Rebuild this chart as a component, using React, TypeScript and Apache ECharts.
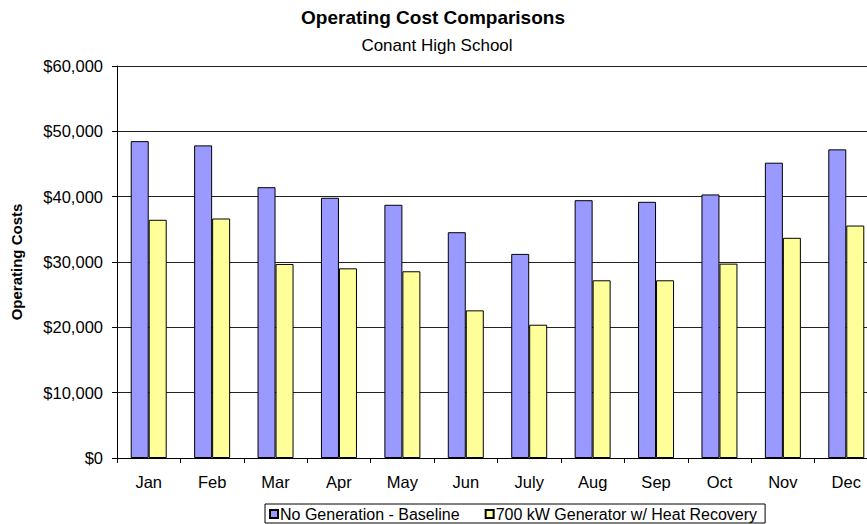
import React, { useEffect, useRef } from "react";
import * as echarts from "echarts";

const months = ["Jan", "Feb", "Mar", "Apr", "May", "Jun", "July", "Aug", "Sep", "Oct", "Nov", "Dec"];
const baseline = [48500, 47850, 41450, 39830, 38760, 34560, 31240, 39460, 39210, 40340, 45200, 47240];
const generator = [36460, 36660, 29700, 29030, 28580, 22600, 20400, 27200, 27200, 29750, 33700, 35580];
const seriesNames = ["No Generation - Baseline", "700 kW Generator w/ Heat Recovery"];
const titleText = "Operating Cost Comparisons";
const subtitleText = "Conant High School";
const yAxisTitle = "Operating Costs";

const FONT = "'Liberation Sans', Arial, sans-serif";

export default function App() {
  const ref = useRef<HTMLDivElement>(null);
  useEffect(() => {
    if (!ref.current) return;
    const chart = echarts.init(ref.current, undefined, { renderer: "svg" });
    chart.setOption({
      animation: false,
      textStyle: { fontFamily: FONT },
      graphic: [
        {
          type: "text",
          x: 433,
          y: 17,
          style: {
            text: titleText,
            fontFamily: FONT,
            fontWeight: "bold",
            fontSize: 19,
            fill: "#000",
            textAlign: "center",
            textVerticalAlign: "middle",
          },
        },
        {
          type: "text",
          x: 437,
          y: 45,
          style: {
            text: subtitleText,
            fontFamily: FONT,
            fontSize: 17,
            fill: "#000",
            textAlign: "center",
            textVerticalAlign: "middle",
          },
        },
      ],
      legend: {
        left: 265,
        top: 504,
        orient: "horizontal",
        itemWidth: 8,
        itemHeight: 8,
        itemGap: 25,
        padding: [2, 8, 1, 4],
        borderColor: "#000",
        borderWidth: 1,
        borderRadius: 0,
        icon: "rect",
        textStyle: { fontFamily: FONT, fontSize: 16, color: "#000", padding: [0, 0, 0, -3] },
        data: seriesNames,
      },
      grid: { left: 117, right: 12, top: 66, bottom: 66, containLabel: false },
      xAxis: {
        type: "category",
        data: months,
        axisLine: { show: true, lineStyle: { color: "#000", width: 1 } },
        axisTick: { show: true, length: 5, lineStyle: { color: "#000" } },
        axisLabel: { fontFamily: FONT, fontSize: 16.5, color: "#000", margin: 15 },
      },
      yAxis: {
        type: "value",
        min: 0,
        max: 60000,
        interval: 10000,
        name: yAxisTitle,
        nameLocation: "middle",
        nameRotate: 90,
        nameGap: 93,
        nameTextStyle: { fontFamily: FONT, fontSize: 15, fontWeight: "bold", color: "#000" },
        axisLine: { show: true, lineStyle: { color: "#000", width: 1 } },
        axisTick: { show: true, length: 5, lineStyle: { color: "#000" } },
        axisLabel: {
          fontFamily: FONT,
          fontSize: 16.5,
          color: "#000",
          margin: 14,
          formatter: (v: number) => "$" + v.toLocaleString("en-US"),
        },
        splitLine: { show: true, lineStyle: { color: "#222", width: 1 } },
      },
      series: [
        {
          name: seriesNames[0],
          type: "bar",
          data: baseline,
          barWidth: 18,
          barGap: "0%",
          itemStyle: { color: "#9999FF", borderColor: "#000", borderWidth: 1 },
        },
        {
          name: seriesNames[1],
          type: "bar",
          data: generator,
          barWidth: 18,
          barGap: "0%",
          itemStyle: { color: "#FFFF99", borderColor: "#000", borderWidth: 1 },
        },
      ],
    });
    return () => chart.dispose();
  }, []);
  return (
    <div
      style={{
        position: "fixed",
        left: 0,
        top: 0,
        width: 867,
        height: 524,
        overflow: "hidden",
        background: "#fff",
      }}
    >
      <div ref={ref} style={{ width: 890, height: 524 }} />
    </div>
  );
}
